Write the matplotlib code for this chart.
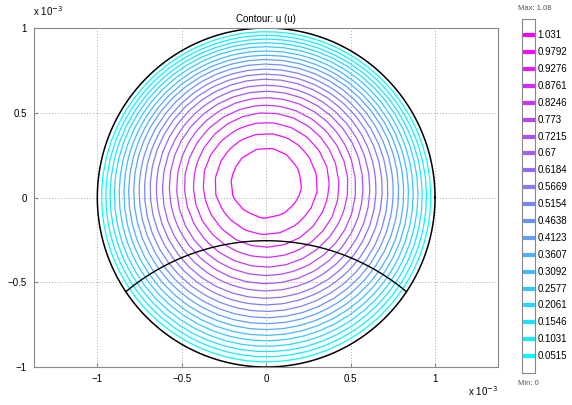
import numpy as np
import matplotlib.pyplot as plt
import matplotlib.tri as mtri

plt.rcParams['font.family'] = ['Liberation Sans', 'DejaVu Sans']

# contour levels of u and their legend labels
levels = [0.0515, 0.1031, 0.1546, 0.2061, 0.2577, 0.3092, 0.3607, 0.4123,
          0.4638, 0.5154, 0.5669, 0.6184, 0.6700, 0.7215, 0.7730, 0.8246,
          0.8761, 0.9276, 0.9792, 1.031]
level_labels = ['0.0515', '0.1031', '0.1546', '0.2061', '0.2577', '0.3092',
                '0.3607', '0.4123', '0.4638', '0.5154', '0.5669', '0.6184',
                '0.67', '0.7215', '0.773', '0.8246', '0.8761', '0.9276',
                '0.9792', '1.031']
u_min, u_max = 0.0, 1.08

# domain: disk of radius 1e-3 m (coordinates below in units of 1e-3)
radius = 1.0
u_centre = 1.072     # u at the origin
u_tilt = 0.193       # vertical skew, pushes the peak upward
mesh_h = 0.1         # element size

# interior boundary (arc) : end points and apex
arc_x = [-0.83, 0.0, 0.83]
arc_y = [-0.555, -0.255, -0.555]

ticks = [-1, -0.5, 0, 0.5, 1]

# ring mesh over the disk
px, py = [0.0], [0.0]
nring = int(round(radius / mesh_h))
for k in range(1, nring + 1):
    r = radius * k / nring
    n = max(6, int(round(2 * np.pi * r / mesh_h)))
    th = np.linspace(0, 2 * np.pi, n, endpoint=False) + 0.37 * k
    px.extend(r * np.cos(th))
    py.extend(r * np.sin(th))
px, py = np.array(px), np.array(py)
tri = mtri.Triangulation(px, py)
u = (1 - (px**2 + py**2) / radius**2) * (u_centre + u_tilt * py)
u = np.clip(u, 0, None)

cmap = plt.get_cmap('cool')
colors = [cmap(i / (len(levels) - 1)) for i in range(len(levels))]

fig = plt.figure(figsize=(5.72, 4.05), dpi=100)
ax = fig.add_axes([34 / 572, 38 / 405, 464 / 572, 339 / 405])

ax.tricontour(tri, u, levels=levels, colors=colors, linewidths=0.9)

# outer boundary
t = np.linspace(0, 2 * np.pi, 400)
ax.plot(radius * np.cos(t), radius * np.sin(t), color='black', lw=1.1)

# interior arc through the three points
(x1, x2, x3), (y1, y2, y3) = arc_x, arc_y
d = 2 * (x1 * (y2 - y3) + x2 * (y3 - y1) + x3 * (y1 - y2))
cx = ((x1**2 + y1**2) * (y2 - y3) + (x2**2 + y2**2) * (y3 - y1) + (x3**2 + y3**2) * (y1 - y2)) / d
cy = ((x1**2 + y1**2) * (x3 - x2) + (x2**2 + y2**2) * (x1 - x3) + (x3**2 + y3**2) * (x2 - x1)) / d
rho = np.hypot(x1 - cx, y1 - cy)
a0 = np.arctan2(y3 - cy, x3 - cx)
a1 = np.arctan2(y1 - cy, x1 - cx)
aa = np.linspace(a0, a1, 100)
ax.plot(cx + rho * np.cos(aa), cy + rho * np.sin(aa), color='black', lw=1.0)

ax.set_xlim(-1.375, 1.373)
ax.set_ylim(-1, 1)
ax.set_xticks(ticks)
ax.set_yticks(ticks)
ax.set_xticklabels(['\u22121', '\u22120.5', '0', '0.5', '1'])
ax.set_yticklabels(['\u22121', '\u22120.5', '0', '0.5', '1'])
ax.tick_params(direction='in', length=3, labelsize=7, color='#888888', pad=5)
ax.grid(True, linestyle=(0, (1, 2)), color='#aaaaaa', lw=0.7)
for s in ax.spines.values():
    s.set_color('#888888')
    s.set_linewidth(0.8)
ax.set_title('Contour: u (u)', fontsize=7, pad=4)

fig.text(33 / 572, 1 - 18 / 405, r'x 10$^{-3}$', fontsize=7, ha='left', va='bottom')
fig.text(498 / 572, 1 - 398 / 405, r'x 10$^{-3}$', fontsize=7, ha='right', va='bottom')

# level legend bar
cax = fig.add_axes([521.5 / 572, 32 / 405, 13 / 572, 354 / 405])
cax.set_xlim(0, 1)
cax.set_ylim(u_min, u_max)
cax.set_xticks([])
cax.set_yticks([])
for s in cax.spines.values():
    s.set_color('#888888')
    s.set_linewidth(0.8)
for lv, lab, c in zip(levels, level_labels, colors):
    cax.plot([0.03, 1.15], [lv, lv], color=c, lw=3.0, solid_capstyle='butt', clip_on=False)
    cax.text(1.25, lv, lab, fontsize=7, va='center', ha='left')
cax.text(-0.3, 1.02, 'Max: 1.08', transform=cax.transAxes, fontsize=5.5,
         color='#555555', ha='left', va='bottom')
cax.text(-0.3, -0.02, 'Min: 0', transform=cax.transAxes, fontsize=5.5,
         color='#555555', ha='left', va='top')

fig.savefig('out.png', dpi=100)
